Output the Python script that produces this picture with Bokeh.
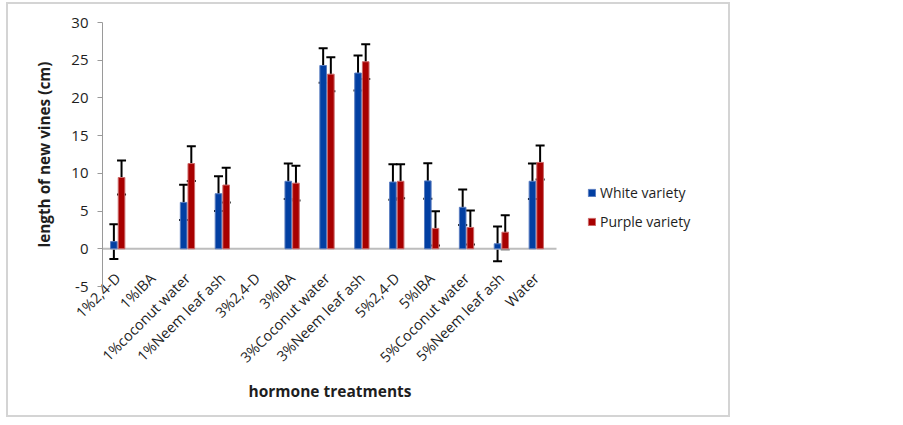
import math
from bokeh.plotting import figure
from bokeh.models import (ColumnDataSource, Whisker, TeeHead, FixedTicker, Title,
                          Legend, LegendItem, Range1d, CDSView, BooleanFilter)
from bokeh.transform import dodge
from bokeh.embed import file_html
from bokeh.resources import INLINE

categories = ["1%2,4-D", "1%IBA", "1%coconut water", "1%Neem leaf ash", "3%2,4-D",
              "3%IBA", "3%Coconut water", "3%Neem leaf ash", "5%2,4-D", "5%IBA",
              "5%Coconut water", "5%Neem leaf ash", "Water"]
white = [0.95, 0, 6.15, 7.3, 0, 8.95, 24.3, 23.3, 8.85, 9.0, 5.5, 0.66, 8.95]
purple = [9.45, 0, 11.3, 8.45, 0, 8.7, 23.15, 24.8, 8.95, 2.7, 2.83, 2.2, 11.45]
white_err = [2.3, 0, 2.35, 2.3, 0, 2.35, 2.3, 2.33, 2.35, 2.35, 2.35, 2.3, 2.35]
purple_err = [2.25, 0, 2.3, 2.3, 0, 2.3, 2.25, 2.3, 2.25, 2.28, 2.26, 2.26, 2.25]
series_names = ["White variety", "Purple variety"]
y_ticks = [-5, 0, 5, 10, 15, 20, 25, 30]
y_title = "length of new vines (cm)"
x_title = "hormone treatments"

BLUE, BLUE_EDGE = "#023FA2", "#5A7DC0"
RED, RED_EDGE = "#A80000", "#CC6A6A"
TXT = "#1E1E1E"
FONT = "Open Sans"

idx = list(range(len(categories)))
src = ColumnDataSource(dict(idx=idx, cat=categories, white=white, purple=purple))

p = figure(width=724, height=415, output_backend="svg", toolbar_location=None,
           x_range=Range1d(-0.436, 16.88), y_range=Range1d(-5, 30),
           min_border_left=96, min_border_right=24, min_border_top=20,
           min_border_bottom=131)
p.styles = {"margin-left": "6px", "margin-top": "2px",
            "outline": "2px solid #D4D4D4", "outline-offset": "-2px"}
p.grid.visible = False
p.outline_line_color = None
p.background_fill_alpha = 0
p.border_fill_alpha = 0

# y axis
ya = p.yaxis[0]
ya.ticker = FixedTicker(ticks=y_ticks)
ya.major_label_overrides = {t: str(t) for t in y_ticks}
ya.axis_line_color = "#9A9A9A"
ya.major_tick_line_color = "#9A9A9A"
ya.major_tick_out = 5
ya.major_tick_in = 0
ya.minor_tick_line_color = None
ya.major_label_standoff = 9
ya.major_label_text_font = FONT
ya.major_label_text_font_size = "15px"
ya.major_label_text_color = TXT
ya.axis_label = y_title
ya.axis_label_standoff = 14
ya.axis_label_text_font = FONT
ya.axis_label_text_font_style = "bold"
ya.axis_label_text_font_size = "15.3px"
ya.axis_label_text_color = TXT

# x axis (category labels)
xa = p.xaxis[0]
xa.ticker = FixedTicker(ticks=idx)
xa.major_label_overrides = {i: c for i, c in enumerate(categories)}
xa.axis_line_color = None
xa.major_tick_line_color = None
xa.minor_tick_line_color = None
xa.major_tick_out = 0
xa.major_tick_in = 0
xa.major_label_orientation = math.pi / 4
xa.major_label_standoff = -11
xa.major_label_text_font = FONT
xa.major_label_text_font_size = "14.5px"
xa.major_label_text_color = TXT

# x-axis title, under the category area
p.add_layout(Title(text=x_title, align="left", offset=146, standoff=3,
                   text_font=FONT, text_font_style="bold", text_font_size="15.5px",
                   text_color=TXT), "below")

# zero baseline
p.segment(x0=[-0.5], y0=[0], x1=[len(categories) - 0.42], y1=[0],
          line_color="#BDBDBD", line_width=2)

vw = CDSView(filter=BooleanFilter([v > 0 for v in white]))
vp = CDSView(filter=BooleanFilter([v > 0 for v in purple]))
rw = p.vbar(x=dodge("idx", -0.11, range=p.x_range), top="white", bottom=0, width=0.19,
            source=src, view=vw, fill_color=BLUE, line_color=BLUE_EDGE, line_width=1)
rp = p.vbar(x=dodge("idx", 0.11, range=p.x_range), top="purple", bottom=0, width=0.19,
            source=src, view=vp, fill_color=RED, line_color=RED_EDGE, line_width=1)

def add_whiskers(vals, errs, off):
    keep = [i for i in idx if errs[i] > 0]
    ws = ColumnDataSource(dict(x=keep,
                               upper=[vals[i] + errs[i] for i in keep],
                               lower=[vals[i] - errs[i] for i in keep]))
    w = Whisker(source=ws, base=dodge("x", off, range=p.x_range), upper="upper",
                lower="lower", line_color="black", line_width=2,
                upper_head=TeeHead(size=9, line_color="black", line_width=2),
                lower_head=TeeHead(size=9, line_color="black", line_width=2))
    p.add_layout(w)

add_whiskers(white, white_err, -0.11)
add_whiskers(purple, purple_err, 0.11)

legend = Legend(items=[LegendItem(label=series_names[0], renderers=[rw]),
                       LegendItem(label=series_names[1], renderers=[rp])],
                location=(485, 55), glyph_width=9, glyph_height=9, label_standoff=4,
                spacing=10, padding=0, margin=0, border_line_color=None,
                background_fill_alpha=0, label_text_font=FONT,
                label_text_font_size="14px", label_text_color=TXT)
p.add_layout(legend)

open("out.html", "w").write(file_html(p, INLINE))
